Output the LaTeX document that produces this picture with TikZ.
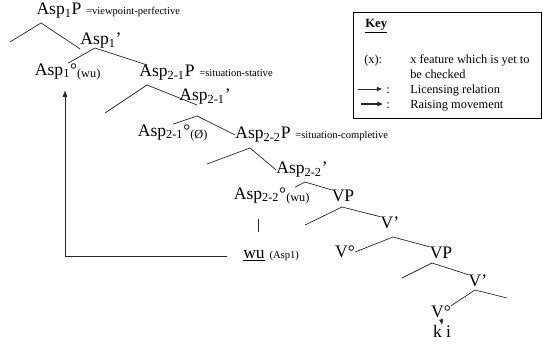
\documentclass[tikz,border=0pt]{standalone}
\usepackage{fontspec}
\setmainfont{Liberation Serif}
\usetikzlibrary{arrows.meta, positioning, calc}

\begin{document}
\begin{tikzpicture}[
    x=0.25mm, y=-0.25mm,
    cat/.style={inner sep=0pt, font=\fontsize{12.5}{14}\selectfont},
    note/.style={inner sep=0pt, anchor=base west, font=\fontsize{7.5}{9}\selectfont},
    keytxt/.style={inner sep=0pt, anchor=base west, font=\fontsize{8.8}{10}\selectfont},
    br/.style={line width=0.5pt, black!85},
    raise/.style={-{Triangle[length=1.5mm, width=1.1mm]}, line width=0.45pt, black!85},
    lic/.style={-{Triangle[length=1.3mm, width=1mm]}, line width=0.35pt, black!85},
    mov/.style={-{Triangle[length=1.4mm, width=1.1mm]}, line width=0.8pt, black!85}
  ]
    \useasboundingbox (0,0) rectangle (543,351);
    % ---- Asp1 ----
    \node[cat] (a1p) at (59,11) {Asp\textsubscript{1}P};
    \node[note] (a1pn) at ([xshift=3pt]a1p.base east) {=viewpoint-perfective};
    \node[cat] (a1bar) at (101,41) {Asp\textsubscript{1}’};
    \node[cat] (a1head) at (68,72) {Asp\textsubscript{1}°\textsubscript{(wu)}};
    % ---- Asp2-1 ----
    \node[cat] (a21p) at (167,73) {Asp\textsubscript{2-1}P};
    \node[note] (a21pn) at ([xshift=3pt]a21p.base east) {=situation-stative};
    \node[cat] (a21bar) at (205,97) {Asp\textsubscript{2-1}’};
    \node[cat] (a21head) at (173,133) {Asp\textsubscript{2-1}°\textsubscript{(Ø)}};
    % ---- Asp2-2 ----
    \node[cat] (a22p) at (263,135) {Asp\textsubscript{2-2}P};
    \node[note] (a22pn) at ([xshift=3pt]a22p.base east) {=situation-completive};
    \node[cat] (a22bar) at (302,170) {Asp\textsubscript{2-2}’};
    \node[cat] (a22head) at (272,196) {Asp\textsubscript{2-2}°\textsubscript{(wu)}};
    \node[cat] (wu) at (254,256) {\underline{wu}};
    \node[note] (wun) at ([xshift=3pt]wu.base east) {(Asp1)};
    % ---- VP ----
    \node[cat] (vp) at (343,196) {VP};
    \node[cat] (vbar) at (390,223) {V’};
    \node[cat] (v0) at (345,252) {V°};
    \node[cat] (vp2) at (441,253) {VP};
    \node[cat] (vbar2) at (478,281) {V’};
    \node[cat] (v02) at (441,312) {V°};
    \node[cat] (ki) at (442,331) {k\hspace{3pt}i};
    % ---- branch points ----
    \coordinate (j1) at (41,23);   \coordinate (s1) at (10,42);
    \coordinate (j2) at (95,48);
    \coordinate (j3) at (147,85);  \coordinate (s3) at (105,113);
    \coordinate (j4) at (197,116);
    \coordinate (j5) at (250,148); \coordinate (s5) at (207,164);
    \coordinate (j6) at (305,182);
    \coordinate (j7) at (342,207); \coordinate (s7) at (305,225);
    \coordinate (j8) at (393,237);
    \coordinate (j9) at (432,263); \coordinate (s9) at (402,278);
    \coordinate (j10) at (475,290); \coordinate (s10) at (507,298);
    \coordinate (rc) at (65,255);
    % ---- branches ----
    \draw[br] (s1) -- (j1) -- (a1bar.south west);
    \draw[br] (a1head.north) -- (j2) -- (a21p.158);
    \draw[br] (s3) -- (j3) -- (a21bar.225);
    \draw[br] (a21head.north) -- (j4) -- (a22p.west);
    \draw[br] (s5) -- (j5) -- (a22bar.west);
    \draw[br] (a22head.21) -- (j6) -- (vp.north west);
    \draw[br] (s7) -- (j7) -- (vbar.north west);
    \draw[br] (v0.east) -- (j8) -- (vp2.north west);
    \draw[br] (s9) -- (j9) -- (vbar2.north west);
    \draw[br] (v02.north east) -- (j10) -- (s10);
    \draw[br, shorten <=3.5mm, shorten >=4.5mm] ([xshift=1mm]a22head.south -| wu.north) -- ([xshift=1mm]wu.north);
    \draw[lic] (v02.south) -- (ki.north);
    % ---- raising ----
    \draw[raise, shorten <=4mm, shorten >=2.5mm] (wu.west) -- (wu.west -| rc) -- (rc |- a1head.south);
    % ---- key ----
    \node[draw, line width=0.8pt, anchor=north west, minimum width=47mm, minimum height=26.5mm] (keybox) at (353,12) {};
    \node[keytxt, font=\fontsize{9}{10}\selectfont\bfseries] (keyt) at (365,28) {\underline{Key}};
    \node[keytxt] (kx) at (364,64) {(x):};
    \node[keytxt] (kxt) at (410,64) {x feature which is yet to};
    \node[keytxt] (kxt2) at (410,79) {be checked};
    \coordinate (l1) at (358,89);  \coordinate (l2) at (382,89);
    \coordinate (m1) at (361,104); \coordinate (m2) at (383,104);
    \draw[lic] (l1) -- (l2);
    \draw[mov] (m1) -- (m2);
    \node[keytxt] (kl) at (386,94) {:};
    \node[keytxt] (klt) at (410,94) {Licensing relation};
    \node[keytxt] (km) at (386,109) {:};
    \node[keytxt] (kmt) at (410,109) {Raising movement};
  \end{tikzpicture}
\end{document}
